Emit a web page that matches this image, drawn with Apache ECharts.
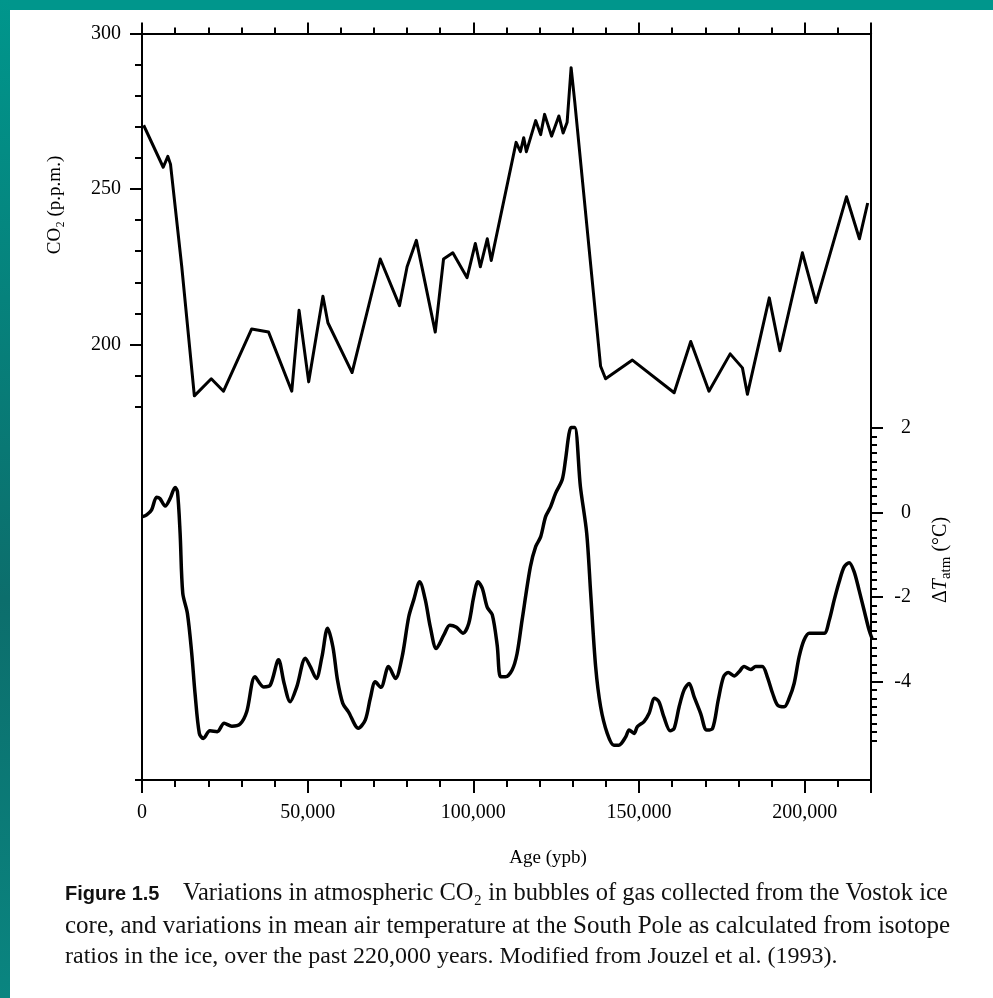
<!DOCTYPE html>
<html>
<head>
<meta charset="utf-8">
<title>Vostok CO2 and temperature</title>
<script src="https://cdn.jsdelivr.net/npm/echarts@6/dist/echarts.min.js"></script>
<style>
    html, body {margin: 0; padding: 0; background: #fff;}
    #chart {width: 993px; height: 998px;}
</style>
</head>
<body>
<div id="chart"></div>
<script>
// CO2 record: age (years before present) and ppm
var co2Age = [500, 6400, 7800, 8600, 12000, 15800, 20900, 24600, 33100, 38200,
    45200, 47400, 50300, 54600, 56100, 63400, 71900, 77700, 80000, 82800,
    88500, 91000, 93800, 98100, 100600, 102100, 104200, 105400, 112900, 114200,
    115200, 116000, 118800, 120300, 121500, 123600, 125800, 127100, 128300, 129500,
    130600, 138400, 139900, 148000, 160600, 165600, 171100, 177500, 181200, 182700,
    189300, 192500, 199300, 203400, 212600, 216500, 219000];
var co2Ppm = [270.5, 257, 260.5, 258, 225, 183.5, 189, 185, 205, 204,
    185, 211, 188, 215.5, 207, 191, 227.5, 212.5, 225, 233.5,
    204, 227.5, 229.5, 221.5, 232.5, 225, 234, 227, 265, 262,
    266.5, 262, 272, 267.5, 274, 267, 273.5, 268, 271.5, 289,
    278, 193, 189, 195, 184.5, 201, 185, 197, 192.5, 184,
    215, 198, 229.5, 213.5, 247.5, 234, 245.5];

// temperature record: age (years before present) and delta T (deg C)
var tempAge = [200, 1400, 2900, 4400, 5400, 7000, 8500, 10000, 10700, 11500,
    12300, 13700, 15000, 16000, 17300, 18500, 20500, 22700, 24800, 27100,
    29600, 31600, 34100, 36700, 38700, 41200, 42900, 44700, 46700, 49300,
    50800, 52600, 54300, 56000, 57600, 59000, 60600, 62300, 65300, 67400,
    68900, 70400, 72100, 74400, 76500, 78500, 80500, 82000, 83800, 85500,
    87000, 88800, 91100, 92900, 94900, 96900, 98600, 100100, 101400, 102700,
    104200, 105700, 107200, 108200, 109700, 111700, 113200, 114700, 117200, 118800,
    120300, 121800, 123300, 124800, 126800, 127800, 128800, 129500, 130600, 132300,
    134200, 135400, 136900, 138400, 140400, 142400, 143900, 146000, 147000, 148500,
    149500, 151500, 153000, 154700, 156000, 157500, 159400, 160600, 162100, 163600,
    165100, 166600, 168600, 170400, 172200, 173900, 175500, 176900, 178700, 180200,
    181700, 183700, 185200, 187200, 188700, 190300, 191800, 193800, 195300, 196800,
    198300, 199800, 201400, 203400, 205900, 207400, 208900, 210400, 211900, 213400,
    214900, 216400, 217900, 219400, 220300];
var tempDelta = [-0.1, -0.06, 0.06, 0.36, 0.33, 0.15, 0.33, 0.59, 0.49, -0.49,
    -1.91, -2.39, -3.33, -4.28, -5.23, -5.35, -5.17, -5.19, -4.99, -5.06,
    -5.01, -4.72, -3.89, -4.13, -4.09, -3.49, -4.05, -4.48, -4.13, -3.45,
    -3.65, -3.93, -3.42, -2.74, -3.18, -3.97, -4.52, -4.72, -5.11, -4.91,
    -4.40, -4.01, -4.14, -3.65, -3.93, -3.42, -2.47, -2.07, -1.64, -2.07,
    -2.71, -3.22, -2.90, -2.67, -2.72, -2.86, -2.63, -2.00, -1.64, -1.80,
    -2.25, -2.42, -3.15, -3.89, -3.89, -3.73, -3.34, -2.55, -1.29, -0.81,
    -0.58, -0.10, 0.13, 0.45, 0.77, 1.24, 1.83, 2.01, 2.01, 0.61,
    -0.49, -1.91, -3.65, -4.60, -5.23, -5.51, -5.51, -5.31, -5.15, -5.23,
    -5.07, -4.95, -4.76, -4.40, -4.48, -4.84, -5.17, -5.11, -4.60, -4.20,
    -4.05, -4.36, -4.76, -5.15, -5.11, -4.44, -3.89, -3.79, -3.87, -3.77,
    -3.65, -3.72, -3.65, -3.65, -3.89, -4.28, -4.56, -4.60, -4.40, -4.05,
    -3.42, -3.02, -2.86, -2.86, -2.86, -2.55, -2.07, -1.64, -1.29, -1.19,
    -1.40, -1.84, -2.31, -2.78, -2.98];

var ageLabels = [0, 50000, 100000, 150000, 200000];
var captionLines = [
    'Variations in atmospheric CO\u2082 in bubbles of gas collected from the Vostok ice',
    'core, and variations in mean air temperature at the South Pole as calculated from isotope',
    'ratios in the ice, over the past 220,000 years. Modified from Jouzel et al. (1993).'
];

// plot box and the ranges of the two vertical scales
var PLOT_LEFT = 142, PLOT_TOP = 33.5, PLOT_W = 729, PLOT_H = 746.5;
var CO2_MIN = 60, CO2_MAX = 300;
var T_MIN = -19 / 3, T_MAX = 34 / 3;
var SERIF = 'Liberation Serif';

function co2Y(v) {
    return PLOT_TOP + (CO2_MAX - v) / (CO2_MAX - CO2_MIN) * PLOT_H;
}
function tempY(v) {
    return PLOT_TOP + (T_MAX - v) / (T_MAX - T_MIN) * PLOT_H;
}
// a grid that only carries the tick marks of part of a scale
function tickGrid(yTop, yBottom) {
    return {left: PLOT_LEFT, top: yTop, width: PLOT_W, height: yBottom - yTop};
}
function fmtAge(v) {
    if (ageLabels.indexOf(v) < 0) return '';
    return String(v).replace(/\B(?=(\d{3})+(?!\d))/g, ',');
}

var black = {color: '#000', width: 2};

function xAge(pos, step, len, showLabel) {
    return {
        type: 'value', gridIndex: 0, position: pos, min: 0, max: 220000, interval: step,
        axisLine: {show: true, onZero: false, lineStyle: black},
        axisTick: {show: true, length: len, lineStyle: black},
        axisLabel: {show: !!showLabel, formatter: fmtAge, margin: 23,
            fontFamily: SERIF, fontSize: 20, color: '#000'},
        splitLine: {show: false}
    };
}
function hiddenX(idx) {
    return {type: 'value', gridIndex: idx, min: 0, max: 1, show: false,
        axisLine: {onZero: false}};
}
function tickY(idx, pos, min, max, step, len, labels) {
    return {
        type: 'value', gridIndex: idx, position: pos, min: min, max: max, interval: step,
        axisLine: {show: false, onZero: false},
        axisTick: {show: true, length: len, lineStyle: black},
        axisLabel: labels ? labels : {show: false},
        splitLine: {show: false}
    };
}

var chart = echarts.init(document.getElementById('chart'));

var option = {
    backgroundColor: '#fff',
    animation: false,
    grid: [
        {left: PLOT_LEFT, top: PLOT_TOP, width: PLOT_W, height: PLOT_H},
        tickGrid(co2Y(300), co2Y(180)),
        tickGrid(co2Y(300), co2Y(200)),
        tickGrid(tempY(2), tempY(-5.4)),
        tickGrid(tempY(2), tempY(-4))
    ],
    xAxis: [
        xAge('bottom', 10000, 7, true),
        xAge('bottom', 50000, 13, false),
        xAge('top', 10000, 6, false),
        xAge('top', 50000, 11, false),
        hiddenX(1), hiddenX(2), hiddenX(3), hiddenX(4)
    ],
    yAxis: [
        // CO2 scale, only the line and the end ticks
        {type: 'value', gridIndex: 0, position: 'left', min: CO2_MIN, max: CO2_MAX, interval: 240,
            axisLine: {show: true, onZero: false, lineStyle: black},
            axisTick: {show: true, length: 7, lineStyle: black},
            axisLabel: {show: false}, splitLine: {show: false}},
        // temperature scale
        {type: 'value', gridIndex: 0, position: 'right', min: T_MIN, max: T_MAX,
            axisLine: {show: true, onZero: false, lineStyle: black},
            axisTick: {show: false}, axisLabel: {show: false}, splitLine: {show: false}},
        tickY(1, 'left', 180, 300, 10, 7),
        tickY(2, 'left', 200, 300, 50, 12, {show: true, margin: 21,
            fontFamily: SERIF, fontSize: 20, color: '#000'}),
        tickY(3, 'right', -5.4, 2, 0.2, 6),
        tickY(4, 'right', -4, 2, 2, 12, {show: true, margin: 40, align: 'right',
            fontFamily: SERIF, fontSize: 20, color: '#000'})
    ],
    series: [
        {
            name: 'CO2', type: 'line', xAxisIndex: 0, yAxisIndex: 0,
            showSymbol: false, silent: true,
            lineStyle: {color: '#000', width: 3, join: 'round'},
            data: co2Age.map(function (a, i) { return [a, co2Ppm[i]]; })
        },
        {
            name: 'dT', type: 'line', xAxisIndex: 0, yAxisIndex: 1,
            showSymbol: false, silent: true, smooth: 0.3,
            lineStyle: {color: '#000', width: 3.5, join: 'round'},
            data: tempAge.map(function (a, i) { return [a, tempDelta[i]]; })
        }
    ],
    graphic: [
        // teal frame of the slide
        {type: 'rect', shape: {x: 0, y: 0, width: 993, height: 10}, style: {fill: '#00968c'}, silent: true},
        {type: 'rect', shape: {x: 0, y: 0, width: 10, height: 998}, silent: true,
            style: {fill: new echarts.graphic.LinearGradient(0, 0, 0, 1, [
                {offset: 0, color: '#00968c'},
                {offset: 0.6, color: '#0c6e6c'},
                {offset: 1, color: '#0a8580'}
            ])}},
        {type: 'text', x: 55, y: 205, rotation: Math.PI / 2, silent: true,
            style: {text: 'CO\u2082 (p.p.m.)', font: '19px "Liberation Serif"', fill: '#000',
                align: 'center', verticalAlign: 'middle'}},
        {type: 'text', x: 941, y: 560, rotation: Math.PI / 2, silent: true,
            style: {text: '\u0394{i|T}{s|atm} (\u00b0C)', font: '20px "Liberation Serif"', fill: '#000',
                align: 'center', verticalAlign: 'middle',
                rich: {
                    i: {fontStyle: 'italic', fontFamily: SERIF, fontSize: 20},
                    s: {fontFamily: SERIF, fontSize: 15, padding: [10, 0, 0, 0]}
                }}},
        {type: 'text', x: 548, y: 858, silent: true,
            style: {text: 'Age (ypb)', font: '19px "Liberation Serif"', fill: '#000',
                align: 'center', verticalAlign: 'middle'}},
        {type: 'text', x: 65, y: 894, silent: true,
            style: {text: 'Figure 1.5', font: 'bold 20px "Liberation Sans"', fill: '#111',
                verticalAlign: 'middle'}},
        // caption lines are justified in the book, so each gets its own size
        {type: 'text', x: 183, y: 894, silent: true,
            style: {text: captionLines[0], font: '24.5px "Liberation Serif"', fill: '#111',
                verticalAlign: 'middle'}},
        {type: 'text', x: 65, y: 926, silent: true,
            style: {text: captionLines[1], font: '25px "Liberation Serif"', fill: '#111',
                verticalAlign: 'middle'}},
        {type: 'text', x: 65, y: 957, silent: true,
            style: {text: captionLines[2], font: '24px "Liberation Serif"', fill: '#111',
                verticalAlign: 'middle'}}
    ]
};

chart.setOption(option);
</script>
</body>
</html>
